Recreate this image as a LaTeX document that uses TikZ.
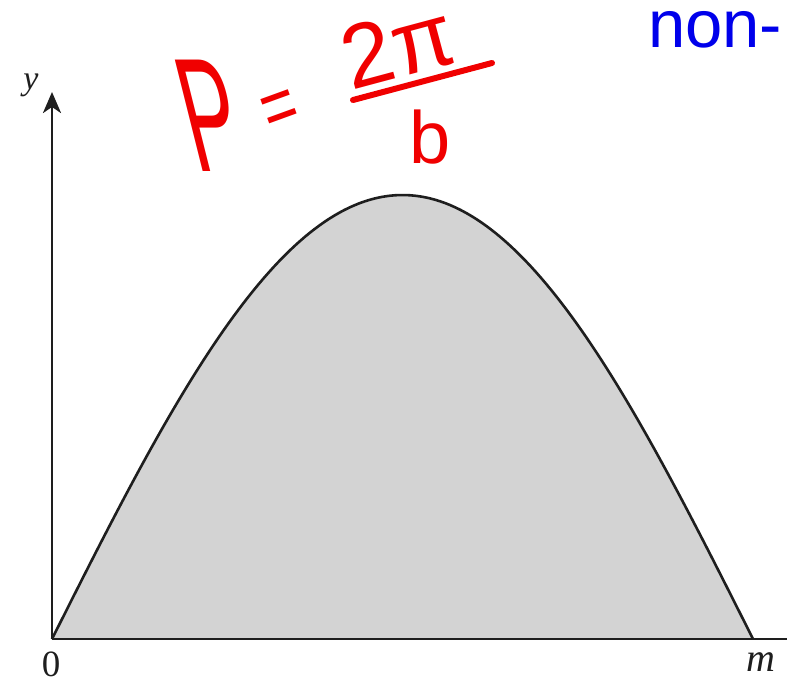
\documentclass[tikz,border=0pt]{standalone}
\usepackage{fontspec}
\setmainfont{Liberation Serif}
\newfontfamily\handfont{Liberation Sans}
\usetikzlibrary{arrows.meta}
\definecolor{areagray}{RGB}{211,211,211}
\definecolor{axisgray}{RGB}{30,30,30}
\definecolor{inkred}{RGB}{240,0,0}
\definecolor{inkblue}{RGB}{0,0,235}
\begin{document}
\begin{tikzpicture}[x=1pt,y=-1pt,
  axisline/.style={draw=axisgray, line width=2.8pt},
  curveline/.style={draw=axisgray, line width=2.6pt},
  lbl/.style={text=axisgray, inner sep=0pt},
  ink/.style={text=inkred, inner sep=0pt},
]
\useasboundingbox[fill=white] (0,0) rectangle (787,683);
\coordinate (O) at (52,639);
\coordinate (ytip) at (52,92);
\coordinate (xend) at (787,639);
\coordinate (mpt) at (753,639);
% shaded area under the curve
\fill[areagray] plot[domain=52:753,samples=140] (\x,{639-444*sin((\x-52)/701*180)}) -- cycle;
\draw[curveline] plot[domain=52:753,samples=140] (\x,{639-444*sin((\x-52)/701*180)});
% axes
\draw[axisline] (O) -- (xend);
\draw[axisline, -{Stealth[length=21pt,width=18pt,inset=6pt]}] (O) -- (ytip);
% axis labels
\node[lbl, font=\fontsize{34}{34}\selectfont\itshape] (ylab) at (31,85) {y};
\node[lbl, font=\fontsize{37}{37}\selectfont] (zero) at (51,664) {0};
\node[lbl, font=\fontsize{40}{40}\selectfont\itshape] (mlab) at (761,662) {m};
% handwritten formula
\node[ink, font=\handfont\fontsize{162}{162}\selectfont, xslant=-0.25, transform shape] (P) at (210,116) {\scalebox{0.5}[1]{P}};
\node[ink, font=\handfont\fontsize{80}{80}\selectfont] (eq) at (281,113) {\rotatebox{20}{\scalebox{0.75}[1]{=}}};
\node[ink, font=\handfont\fontsize{90}{90}\selectfont] (num) at (398,46) {\rotatebox{15}{2π}};
\coordinate (barL) at (353,100);
\coordinate (barR) at (492,63);
\draw[inkred, line width=6pt, line cap=round] (barL) -- (barR);
\node[ink, font=\handfont\fontsize{74}{74}\selectfont] (den) at (430,137) {b};
% blue text cut at the edge
\node[anchor=base west, text=inkblue, inner sep=0pt, font=\handfont\fontsize{67}{67}\selectfont] (non) at (648,47) {non-};
\end{tikzpicture}
\end{document}
